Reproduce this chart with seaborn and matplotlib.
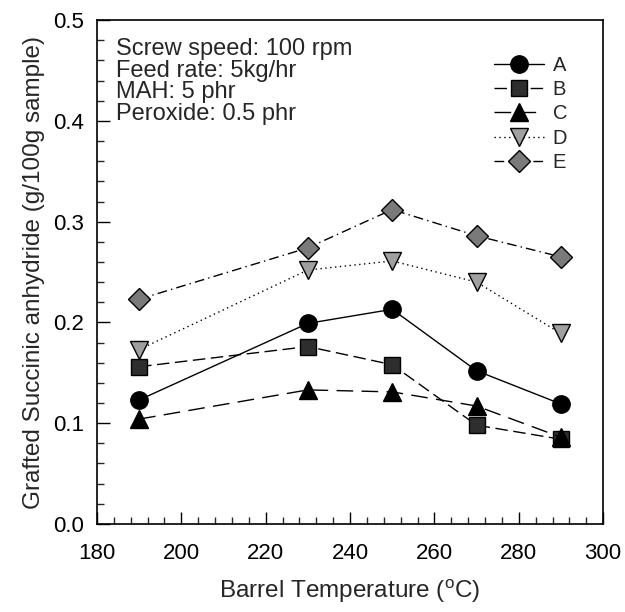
import matplotlib
matplotlib.use("Agg")
import matplotlib.pyplot as plt
import seaborn as sns
import numpy as np
from matplotlib.ticker import MultipleLocator, FormatStrFormatter

temps = [190, 230, 250, 270, 290]
series_names = ["A", "B", "C", "D", "E"]
vals_A = [0.123, 0.199, 0.213, 0.152, 0.119]
vals_B = [0.156, 0.176, 0.158, 0.098, 0.084]
vals_C = [0.104, 0.133, 0.131, 0.117, 0.086]
vals_D = [0.173, 0.252, 0.261, 0.240, 0.189]
vals_E = [0.223, 0.274, 0.312, 0.286, 0.265]
notes = ["Screw speed: 100 rpm", "Feed rate: 5kg/hr", "MAH: 5 phr", "Peroxide: 0.5 phr"]

sns.set_style("ticks")
plt.rcParams["font.family"] = ["Liberation Sans", "DejaVu Sans"]
plt.rcParams["mathtext.fontset"] = "custom"
plt.rcParams["mathtext.rm"] = "Liberation Sans"

fig = plt.figure(figsize=(6.25, 6.12), dpi=100)
ax = fig.add_axes([0.155, 0.144, 0.810, 0.823])

styles = {
    "A": dict(marker="o", mfc="black", ls="-", ms=12.5),
    "B": dict(marker="s", mfc="#2e2e2e", ls=(0, (9, 4)), ms=11),
    "C": dict(marker="^", mfc="black", ls=(0, (12, 6)), ms=12.5),
    "D": dict(marker="v", mfc="#a0a0a0", ls=(0, (1, 2.5)), ms=12.5),
    "E": dict(marker="D", mfc="#7a7a7a", ls=(0, (7, 3, 1, 3)), ms=11),
}
data = {"A": vals_A, "B": vals_B, "C": vals_C, "D": vals_D, "E": vals_E}

for name in series_names:
    st = styles[name]
    sns.lineplot(x=temps, y=data[name], ax=ax, label=name,
                 marker=st["marker"], color="black", linestyle=st["ls"],
                 markerfacecolor=st["mfc"], markeredgecolor="black",
                 markersize=st["ms"], linewidth=1.0, markeredgewidth=1.0)

ax.set_xlim(180, 300)
ax.set_ylim(0.0, 0.5)
ax.xaxis.set_major_locator(MultipleLocator(20))
ax.xaxis.set_minor_locator(MultipleLocator(4))
ax.yaxis.set_major_locator(MultipleLocator(0.1))
ax.yaxis.set_minor_locator(MultipleLocator(0.02))
ax.yaxis.set_major_formatter(FormatStrFormatter("%.1f"))
ax.tick_params(which="major", direction="in", length=9, width=1, labelsize=16, colors="black")
ax.tick_params(which="minor", direction="in", length=5, width=1)
ax.tick_params(axis="x", pad=14)
ax.tick_params(axis="y", pad=9)
for sp in ax.spines.values():
    sp.set_visible(True)
    sp.set_linewidth(1.2)
    sp.set_color("black")

ax.set_xlabel("Barrel Temperature ($^{\\mathrm{o}}$C)", fontsize=17.5, labelpad=9)
ax.set_ylabel("Grafted Succinic anhydride (g/100g sample)", fontsize=17.5, labelpad=6)

ax.text(0.038, 0.964, "\n".join(notes), transform=ax.transAxes, fontsize=17,
        va="top", ha="left", linespacing=0.97)

leg = ax.legend(loc="upper left", bbox_to_anchor=(0.785, 0.929), frameon=False,
                fontsize=14.5, handlelength=2.45, labelspacing=0.26, handletextpad=0.45,
                borderpad=0, borderaxespad=0)

fig.savefig("out.png", dpi=100)
